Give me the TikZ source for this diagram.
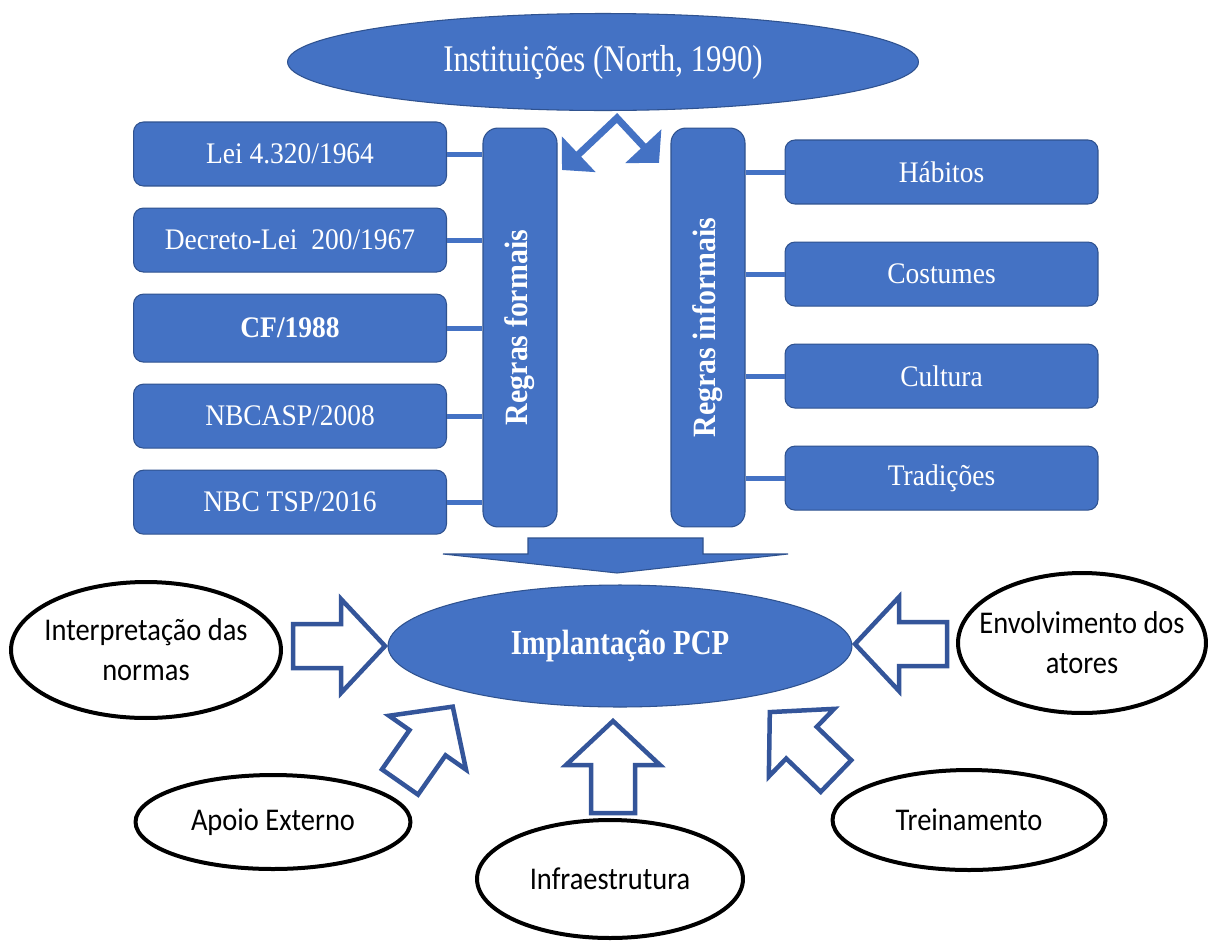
\documentclass[tikz,border=0pt]{standalone}
\usepackage{fontspec}
\usepackage{tikz}
\usetikzlibrary{positioning,shapes.geometric,arrows.meta}
\newfontfamily\boxfont{Liberation Serif}[FakeStretch=0.92]
\newfontfamily\headfont{Liberation Serif}[FakeStretch=0.82]
\newfontfamily\ovalfont{Carlito}[FakeStretch=0.9]
\definecolor{officeblue}{HTML}{4472C4}
\definecolor{edgeblue}{HTML}{2F528F}
\definecolor{arrowblue}{HTML}{34559A}

\begin{document}
\begin{tikzpicture}[
        x=0.02cm, y=-0.02cm,
        node distance=0.42cm,
        rulebox/.style={rectangle, rounded corners=0.2cm, draw=edgeblue, line width=0.6pt, fill=officeblue, minimum width=6.26cm, minimum height=1.28cm, inner sep=0pt, text=white, font=\boxfont\fontsize{17}{20}\selectfont},
        colbox/.style={rectangle, rounded corners=0.3cm, draw=edgeblue, line width=0.6pt, fill=officeblue, minimum width=1.48cm, minimum height=7.98cm},
        coltext/.style={rotate=90, text=white, inner sep=0pt, font=\boxfont\bfseries\fontsize{18.5}{20}\selectfont},
        blueoval/.style={ellipse, draw=edgeblue, line width=0.6pt, fill=officeblue, inner sep=0pt, text=white},
        factor/.style={ellipse, draw=black, line width=0.08cm, fill=white, inner sep=0pt, align=center, font=\ovalfont\fontsize{18}{22.7}\selectfont},
        link/.style={draw=officeblue, line width=0.1cm},
        splitarrow/.style={draw=officeblue, line width=0.14cm, line join=miter, {Triangle[length=0.46cm,width=0.96cm]}-{Triangle[length=0.46cm,width=0.96cm]}},
        hollow/.style={draw=arrowblue, line width=0.09cm, line join=miter, fill=white},
        hollowarrow/.pic={\path[hollow] (0,22) -- (48,22) -- (48,47) -- (92,0) -- (48,-47) -- (48,-22) -- (0,-22) -- cycle;},
    ]
    \useasboundingbox (0,0) rectangle (1209,940);
    \fill[white] (0,0) rectangle (1209,940);

    % Split arrow under the institutions
    \coordinate (fork) at (617,118);
    \coordinate (forkleft) at (562,170);
    \coordinate (forkright) at (659,163);
    \draw[splitarrow] (forkleft) -- (fork) -- (forkright);

    \node[blueoval, minimum width=12.62cm, minimum height=1.94cm, font=\headfont\fontsize{21.4}{24}\selectfont] (inst) at (603,62) {Instituições (North, 1990)};

    % Formal rules (left column)
    \node[colbox] (formal) at (520,327.5) {};
    \node[coltext] (formaltxt) at (formal) {Regras formais};
    \node[rulebox] (lei) at (290,154) {Lei 4.320/1964};
    \node[rulebox, below=of lei] (decreto) {Decreto-Lei\ \ 200/1967};
    \node[rulebox, below=of decreto, minimum height=1.36cm, font=\boxfont\bfseries\fontsize{17}{20}\selectfont] (cf) {CF/1988};
    \node[rulebox, below=of cf] (nbcasp) {NBCASP/2008};
    \node[rulebox, below=of nbcasp] (nbctsp) {NBC TSP/2016};

    % Informal rules (right column)
    \node[colbox] (informal) at (708,327.5) {};
    \node[coltext] (informaltxt) at (informal) {Regras informais};
    \node[rulebox] (habitos) at (941.5,172) {Hábitos};
    \node[rulebox, below=0.74cm of habitos] (costumes) {Costumes};
    \node[rulebox, below=0.74cm of costumes] (cultura) {Cultura};
    \node[rulebox, below=0.74cm of cultura] (tradicoes) {Tradições};

    \foreach \b in {lei,decreto,cf,nbcasp,nbctsp}
        \draw[link] (\b.east) -- (\b.east -| formal.west);
    \foreach \b in {habitos,costumes,cultura,tradicoes}
        \draw[link] (\b.west -| informal.east) -- (\b.west);

    % Block arrow down to the implementation
    \filldraw[fill=officeblue, draw=edgeblue, line width=0.6pt] (528,538) -- (703,538) -- (703,554) -- (788,554) -- (617,573) -- (443,554) -- (528,554) -- cycle;

    \node[blueoval, minimum width=9.28cm, minimum height=2.44cm, font=\headfont\bfseries\fontsize{20}{24}\selectfont] (pcp) at (620,646) {Implantação PCP};

    % Factors
    \node[factor, inner xsep=-0.3cm, minimum width=5.4cm, minimum height=2.72cm] (interp) at (146,650) {Interpretação das\\normas};
    \node[factor, inner xsep=-0.3cm, minimum width=4.96cm, minimum height=2.8cm] (envolv) at (1082,643) {Envolvimento dos\\atores};
    \node[factor, minimum width=5.5cm, minimum height=1.88cm] (apoio) at (273,822) {Apoio Externo};
    \node[factor, minimum width=5.32cm, minimum height=2.36cm] (infra) at (610,879) {Infraestrutura};
    \node[factor, minimum width=5.46cm, minimum height=2cm] (trein) at (969,820) {Treinamento};

    % Hollow arrows towards the implementation
    \pic[rotate=0] at (293,646) {hollowarrow};
    \pic[rotate=180] at (947,644) {hollowarrow};
    \pic[rotate=90] at (613,813) {hollowarrow};
    \pic[rotate=55] at (400,782) {hollowarrow};
    \pic[rotate=136] at (836,776) {hollowarrow};

\end{tikzpicture}
\end{document}
